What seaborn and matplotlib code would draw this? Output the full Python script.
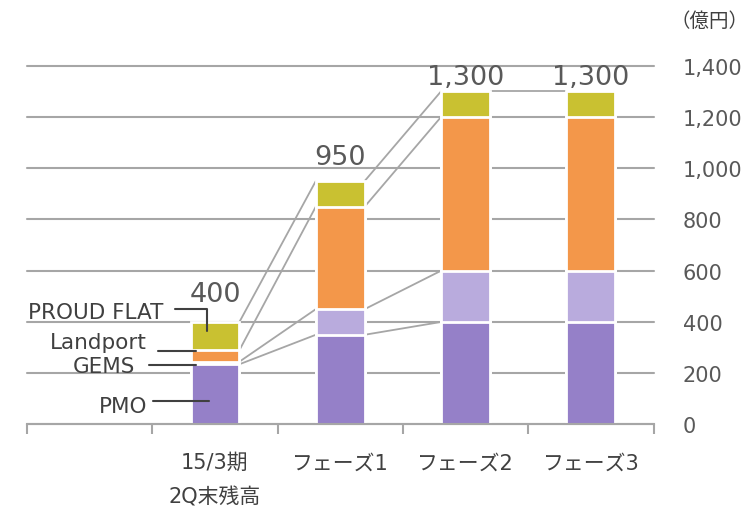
import matplotlib
matplotlib.use("Agg")
import matplotlib.pyplot as plt
import seaborn as sns
import pandas as pd
import numpy as np

# ---- data ----
categories = ["", "15/3期\n2Q末残高", "フェーズ1", "フェーズ2", "フェーズ3"]
bar_categories = categories[1:]
series_names = ["PMO", "GEMS", "Landport", "PROUD FLAT"]
pmo = [235, 350, 400, 400]
gems = [10, 100, 200, 200]
landport = [45, 400, 600, 600]
proud_flat = [110, 100, 100, 100]
totals = [400, 950, 1300, 1300]
total_labels = ["400", "950", "1,300", "1,300"]
y_ticks = [0, 200, 400, 600, 800, 1000, 1200, 1400]
y_tick_labels = ["0", "200", "400", "600", "800", "1,000", "1,200", "1,400"]
unit_label = "（億円）"

colors = {"PMO": "#9580c8", "GEMS": "#b9abdd", "Landport": "#f3974a", "PROUD FLAT": "#c9c131"}

sns.set_theme(style="white")
plt.rcParams["font.family"] = ["DejaVu Sans", "Noto Sans CJK JP"]

df = pd.DataFrame({"cat": bar_categories, "PMO": pmo, "GEMS": gems,
                   "Landport": landport, "PROUD FLAT": proud_flat})
cum = df[series_names].cumsum(axis=1)
for s in series_names:
    df["cum_" + s] = cum[s]

fig = plt.figure(figsize=(7.51, 5.10), dpi=100)
ax = fig.add_axes([0.036, 0.1657, 0.8342, 0.7037])

W = 0.39
for s in reversed(series_names):
    sns.barplot(data=df, x="cat", y="cum_" + s, order=categories, color=colors[s],
                width=W, edgecolor="white", linewidth=2, errorbar=None,
                saturation=1, ax=ax, zorder=3)

# connector lines between bars
pos = {c: i for i, c in enumerate(categories)}
for j in range(len(bar_categories) - 1):
    x0 = pos[bar_categories[j]] + W / 2
    x1 = pos[bar_categories[j + 1]] - W / 2
    for s in series_names:
        ax.plot([x0, x1], [df["cum_" + s][j], df["cum_" + s][j + 1]],
                color="#a6a6a6", lw=1.3, zorder=2, solid_capstyle="butt")

# total labels
offsets = [21, 17, 7, 7]
for j, c in enumerate(bar_categories):
    ax.annotate(total_labels[j], xy=(pos[c], totals[j]), xytext=(0, offsets[j]),
                textcoords="offset pixels", ha="center", va="baseline",
                fontsize=19.5, color="#595959", zorder=5)

# series labels with leader lines (on first bar)
lab_color = "#404040"
b0 = pos[bar_categories[0]]
fs_lab = 15.5
ax.text(b0 - 0.415, 440, "PROUD FLAT", ha="right", va="center", fontsize=fs_lab, color=lab_color)
ax.plot([b0 - 0.319, b0 - 0.063, b0 - 0.063], [449, 449, 363], color="#404040", lw=1.5, zorder=6)
ax.text(b0 - 0.542, 323, "Landport", ha="right", va="center", fontsize=fs_lab, color=lab_color)
ax.plot([b0 - 0.455, b0 - 0.151], [286, 286], color="#404040", lw=1.5, zorder=6)
ax.text(b0 - 0.638, 230, "GEMS", ha="right", va="center", fontsize=fs_lab, color=lab_color)
ax.plot([b0 - 0.526, b0 - 0.151], [234, 234], color="#404040", lw=1.5, zorder=6)
ax.text(b0 - 0.542, 74, "PMO", ha="right", va="center", fontsize=fs_lab, color=lab_color)
ax.plot([b0 - 0.494, b0 - 0.047], [92, 92], color="#404040", lw=1.5, zorder=6)

# axes styling
ax.set_xlim(-0.5, len(categories) - 0.5)
ax.set_ylim(0, 1400)
ax.yaxis.tick_right()
ax.set_yticks(y_ticks)
ax.set_yticklabels(y_tick_labels)
ax.tick_params(axis="y", length=0, pad=21, labelsize=15, labelcolor="#595959")
ax.set_xticks(range(len(categories)))
ax.set_xticklabels(categories, linespacing=1.9)
ax.set_xticks(np.arange(-0.5, len(categories), 1.0), minor=True)
ax.tick_params(axis="x", which="major", length=0, pad=20, labelsize=15, labelcolor="#404040")
ax.tick_params(axis="x", which="minor", length=7.2, width=1.5, color="#a6a6a6", direction="out", bottom=True)
ax.grid(axis="y", color="#a6a6a6", lw=1.5, zorder=0)
ax.set_axisbelow(True)
for gl in ax.get_ygridlines():
    gl.set_clip_on(False)
for side in ["left", "right", "top"]:
    ax.spines[side].set_visible(False)
ax.spines["bottom"].set_color("#a6a6a6")
ax.spines["bottom"].set_linewidth(1.5)
ax.spines["bottom"].set_zorder(4)
ax.set_xlabel("")
ax.set_ylabel("")

fig.text(0.945, 0.957, unit_label, ha="center", va="center", fontsize=14,
         color="#404040", family=["Noto Sans CJK JP", "DejaVu Sans"])

fig.savefig("out.png", dpi=100)
